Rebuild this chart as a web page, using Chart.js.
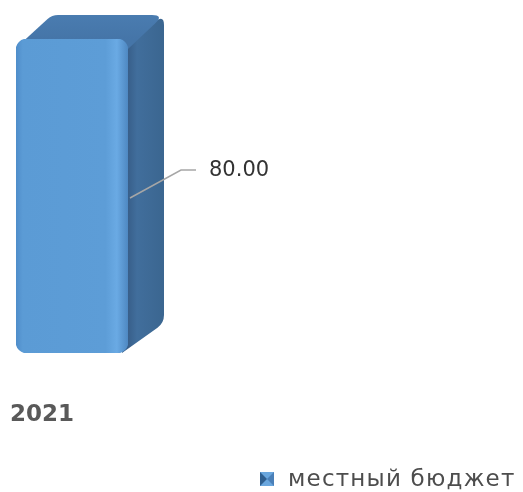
<!DOCTYPE html>
<html>
<head>
<meta charset="utf-8">
<script src="https://cdn.jsdelivr.net/npm/chart.js@4/dist/chart.umd.min.js"></script>
<style>
  html, body { margin: 0; padding: 0; background: #fff; }
  #chart { display: block; }
</style>
</head>
<body>
<canvas id="chart" width="523" height="492"></canvas>
<script>
// budget by year
const years = ['2021'];
const localBudget = [80];
const seriesName = 'местный бюджет';

// depth of the extruded bar (bottom recedes a bit more, perspective)
const DEPTH_X = 36;
const DEPTH_Y_TOP = -24;
const DEPTH_Y_BOT = -30;

const roundedPoly = (ctx, pts, r) => {
  ctx.beginPath();
  const n = pts.length;
  for (let i = 0; i < n; i++) {
    const p0 = pts[(i - 1 + n) % n], p1 = pts[i], p2 = pts[(i + 1) % n];
    const rr = p1[2] !== undefined ? p1[2] : r;
    const d1 = Math.hypot(p1[0] - p0[0], p1[1] - p0[1]);
    const d2 = Math.hypot(p2[0] - p1[0], p2[1] - p1[1]);
    const a = [p1[0] + (p0[0] - p1[0]) * rr / d1, p1[1] + (p0[1] - p1[1]) * rr / d1];
    const b = [p1[0] + (p2[0] - p1[0]) * rr / d2, p1[1] + (p2[1] - p1[1]) * rr / d2];
    if (i === 0) ctx.moveTo(a[0], a[1]); else ctx.lineTo(a[0], a[1]);
    ctx.quadraticCurveTo(p1[0], p1[1], b[0], b[1]);
  }
  ctx.closePath();
};

// side and top faces behind the front of each bar
const box3d = {
  id: 'box3d',
  beforeDatasetsDraw(chart) {
    const ctx = chart.ctx;
    chart.getDatasetMeta(0).data.forEach(bar => {
      const l = bar.x - bar.width / 2, r = bar.x + bar.width / 2;
      const t = bar.y, b = bar.base;
      ctx.save();
      // side
      const sg = ctx.createLinearGradient(r, 0, r + DEPTH_X, 0);
      sg.addColorStop(0, '#385f8a');
      sg.addColorStop(0.25, '#416e9c');
      sg.addColorStop(1, '#3b6690');
      ctx.fillStyle = sg;
      roundedPoly(ctx, [[r - 10, t + 10, 0], [r + DEPTH_X, t + DEPTH_Y_TOP, 10], [r + DEPTH_X, b + DEPTH_Y_BOT, 8], [r - 6, b, 0]], 10);
      ctx.fill();
      // top
      const tg = ctx.createLinearGradient(0, t + DEPTH_Y_TOP, 0, t);
      tg.addColorStop(0, '#4a7cb0');
      tg.addColorStop(1, '#4575a8');
      ctx.fillStyle = tg;
      roundedPoly(ctx, [[l + 1, t + 8, 0], [l + DEPTH_X, t + DEPTH_Y_TOP, 6], [r + DEPTH_X, t + DEPTH_Y_TOP, 12], [r, t + 10, 0]], 12);
      ctx.fill();
      ctx.restore();
    });
  },
  afterDatasetsDraw(chart) {
    const ctx = chart.ctx;
    const meta = chart.getDatasetMeta(0);
    ctx.save();
    meta.data.forEach((bar, i) => {
      const r = bar.x + bar.width / 2;
      const midY = (bar.y + bar.base) / 2;
      // leader line and value label
      ctx.strokeStyle = '#a6a6a6';
      ctx.lineWidth = 1.5;
      ctx.beginPath();
      ctx.moveTo(r + 2, midY + 2);
      ctx.lineTo(r + 53, midY - 26);
      ctx.lineTo(r + 68, midY - 26);
      ctx.stroke();
      ctx.fillStyle = '#333333';
      ctx.font = '21px "DejaVu Sans"';
      ctx.textBaseline = 'middle';
      ctx.textAlign = 'left';
      ctx.fillText(localBudget[i].toFixed(2), r + 81, midY - 25);
      // category label
      ctx.fillStyle = '#595959';
      ctx.font = 'bold 23px "DejaVu Sans"';
      ctx.fillText(years[i], 10, 415);
    });
    // legend
    const lx = 260, ly = 472, s = 14;
    ctx.fillStyle = '#6aa7de';
    ctx.fillRect(lx, ly, s, s);
    ctx.fillStyle = '#2f5f8f';
    ctx.beginPath();
    ctx.moveTo(lx, ly); ctx.lineTo(lx + s / 2, ly + s / 2); ctx.lineTo(lx, ly + s); ctx.closePath(); ctx.fill();
    ctx.fillStyle = '#4a80b8';
    ctx.beginPath();
    ctx.moveTo(lx + s, ly); ctx.lineTo(lx + s / 2, ly + s / 2); ctx.lineTo(lx + s, ly + s); ctx.closePath(); ctx.fill();
    ctx.fillStyle = '#4d4d4d';
    ctx.font = '23px "DejaVu Sans"';
    ctx.letterSpacing = '1.2px';
    ctx.textBaseline = 'middle';
    ctx.fillText(seriesName, 288, 480);
    ctx.restore();
  }
};

const ctx = document.getElementById('chart');
new Chart(ctx, {
  type: 'bar',
  data: {
    labels: years,
    datasets: [{
      label: seriesName,
      data: localBudget,
      backgroundColor: c => {
        const a = c.chart.chartArea;
        if (!a) return '#5b9bd5';
        const g = c.chart.ctx.createLinearGradient(a.left, 0, a.right, 0);
        g.addColorStop(0, '#4f8dca');
        g.addColorStop(0.06, '#5b9bd5');
        g.addColorStop(0.8, '#5d9dd7');
        g.addColorStop(0.9, '#6aaae4');
        g.addColorStop(1, '#4e88c2');
        return g;
      },
      borderRadius: 11,
      borderSkipped: false,
      barPercentage: 1,
      categoryPercentage: 1
    }]
  },
  options: {
    responsive: false,
    animation: false,
    layout: { padding: { left: 16, right: 395, top: 39, bottom: 139 } },
    scales: {
      x: { display: false },
      y: { display: false, min: 0, max: 80 }
    },
    plugins: {
      legend: { display: false },
      tooltip: { enabled: false }
    }
  },
  plugins: [box3d]
});
</script>
</body>
</html>
